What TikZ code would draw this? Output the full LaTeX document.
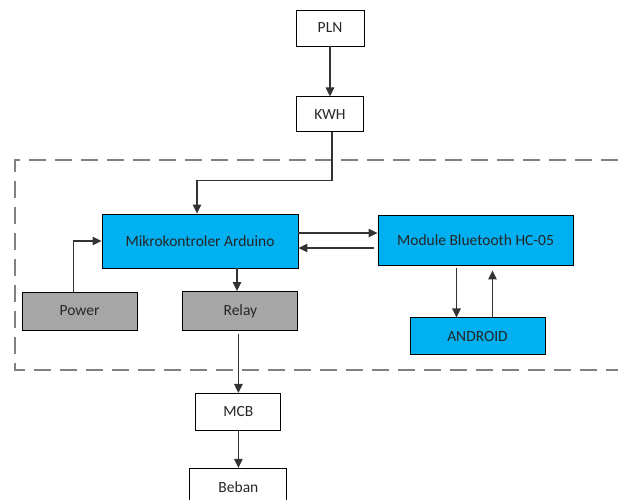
\documentclass[tikz,border=0pt]{standalone}
\usepackage{fontspec}
\setmainfont{Carlito}
\usetikzlibrary{positioning, arrows.meta}

\definecolor{cyanblue}{HTML}{00B0F0}
\definecolor{grayfill}{HTML}{A6A6A6}
\definecolor{framegray}{HTML}{808080}

\begin{document}
\begin{tikzpicture}[x=1pt, y=-1pt,
      blk/.style={draw=black, line width=0.9pt, inner sep=0pt, text=black!85,
        font=\fontsize{15.5}{17}\selectfont},
      plain/.style={blk, fill=white},
      ctrl/.style={blk, fill=cyanblue},
      aux/.style={blk, fill=grayfill},
      arr/.style={-{Triangle[width=8.5pt, length=9pt]}, line width=1.1pt, draw=black!80}]

      \useasboundingbox (0,0) rectangle (618,499);

      % dashed frame round the controller part
      \draw[framegray, line width=2.5pt, dash pattern=on 17pt off 9pt]
        (618,160) -- (15,160) -- (15,370) -- (618,370);

      \node[plain, minimum width=68pt, minimum height=36pt] (pln) at (330,28) {PLN};
      \node[plain, minimum width=67pt, minimum height=35pt] (kwh) [below=50pt of pln] {KWH};

      \node[ctrl, minimum width=196pt, minimum height=54pt] (arduino) at (200,241) {Mikrokontroler Arduino};
      \node[ctrl, minimum width=195pt, minimum height=50pt] (bluetooth) at (475.5,240) {Module Bluetooth HC-05};
      \node[ctrl, minimum width=135pt, minimum height=37pt] (android) [below=52pt of bluetooth, xshift=2pt] {ANDROID};

      \node[aux, minimum width=115pt, minimum height=38pt] (power) at (79.5,311) {Power};
      \node[aux, minimum width=115pt, minimum height=39pt] (relay) [right=45pt of power] {Relay};

      \node[plain, minimum width=85pt, minimum height=37pt] (mcb) [below=62pt of relay, xshift=-2pt] {MCB};
      \node[plain, minimum width=97pt, minimum height=37pt] (beban) [below=37pt of mcb] {Beban};

      \draw[arr] (pln) -- (kwh);
      \draw[arr] ([xshift=2pt]kwh.south) -- ++(0,48) -| ([xshift=-3pt]arduino.north);
      \draw[arr] ([xshift=-6pt]power.north) |- (arduino.west);
      \draw[arr] ([yshift=8pt]arduino.east) -- ([yshift=7pt]bluetooth.west);
      \draw[arr, shorten <=4pt] ([yshift=-8pt]bluetooth.west) -- ([yshift=-7pt]arduino.east);
      \draw[arr] ([xshift=37pt]arduino.south) -- ([xshift=37pt]arduino.south |- relay.north);
      \draw[arr, shorten <=3pt] (mcb.north |- relay.south) -- (mcb.north);
      \draw[arr] (mcb) -- (beban);
      \draw[arr, shorten <=3pt] ([xshift=-19pt]bluetooth.south) -- ([xshift=-19pt]bluetooth.south |- android.north);
      \draw[arr, shorten >=5pt] ([xshift=15pt]android.north) -- ([xshift=15pt]android.north |- bluetooth.south);
\end{tikzpicture}
\end{document}
